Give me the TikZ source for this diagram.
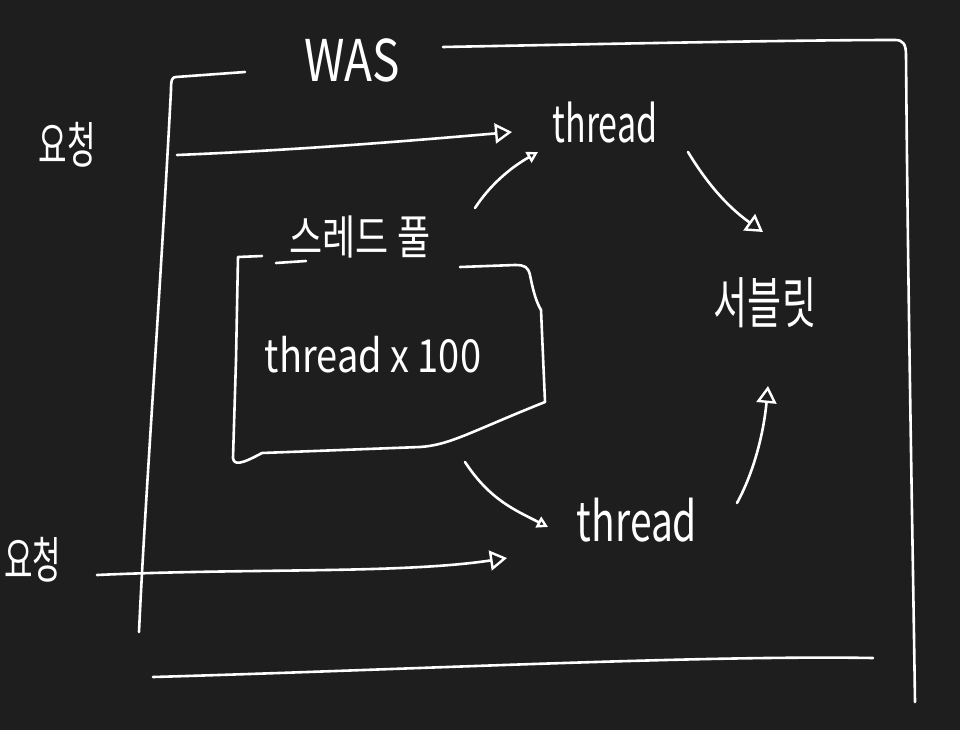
\documentclass[tikz,border=0pt]{standalone}
\usepackage{fontspec}
\setmainfont{Noto Sans CJK KR}
\usetikzlibrary{arrows.meta}
\definecolor{bg}{HTML}{1E1E1E}
\newcommand{\tallhw}[2]{\scalebox{1}[#1]{#2}}
\begin{document}
\begin{tikzpicture}[x=1pt,y=-1pt,
  pen/.style={draw=white, line width=2.6pt, line cap=round, line join=round},
  bighead/.style={-{Triangle[open,length=17pt,width=20pt,line width=2.4pt]}},
  smallhead/.style={-{Triangle[open,length=11pt,width=12pt,line width=2.4pt]}},
  hw/.style={text=white, inner sep=0pt, font=\fontsize{#1}{#1}\selectfont},
  hw/.default=30]
\fill[bg] (0,0) rectangle (960,730);
\useasboundingbox (0,0) rectangle (960,730);

% texts
\node[hw=46] (was) at (352,60) {\tallhw{1.25}{WAS}};
\node[hw=31] (req1) at (67,145) {\tallhw{1.6}{요청}};
\node[hw=31] (req2) at (33,560) {\tallhw{1.6}{요청}};
\node[hw=34] (thr1) at (605,123) {\tallhw{1.5}{thread}};
\node[hw=39] (thr2) at (637,520) {\tallhw{1.4}{thread}};
\node[hw=36] (pool) at (360,237) {\tallhw{1.3}{스레드 풀}};
\node[hw=38] (pooltext) at (373,355) {\tallhw{1.2}{thread x 100}};
\node[hw=37] (servlet) at (765,303) {\tallhw{1.5}{서블릿}};

% WAS frame
\draw[pen] (443,47) .. controls (600,44) and (800,40) .. (895,40)
  .. controls (903,40) and (906,44) .. (906,55)
  .. controls (908,300) and (912,500) .. (915,702);
\draw[pen] (245,72) -- (176,77) .. controls (172,77) and (171,80) .. (171,90)
  .. controls (160,300) and (145,500) .. (139,632);
\draw[pen] (153,677) .. controls (400,670) and (700,655) .. (873,658);

% thread pool box
\draw[pen] (262,256) -- (238,257) -- (236,360) -- (233,458)
  .. controls (234,465) and (240,465) .. (262,453)
  -- (420,447) .. controls (450,445) and (470,432) .. (545,402)
  -- (541,310) .. controls (535,300) and (532,285) .. (530,275)
  .. controls (528,267) and (525,265) .. (515,265) -- (460,267);
\draw[pen] (276,263) -- (306,261);

% connectors
\coordinate (a1s) at (177,155);
\coordinate (a1e) at (512,132);
\draw[pen, bighead] (a1s) .. controls (300,150) and (420,140) .. (a1e);

\coordinate (a2s) at (97,575);
\coordinate (a2e) at (507,558);
\draw[pen, bighead] (a2s) .. controls (250,568) and (400,574) .. (a2e);

\coordinate (p1s) at (475,208);
\coordinate (p1e) at (538,152);
\draw[pen, smallhead] (p1s) .. controls (490,185) and (510,168) .. (p1e);

\coordinate (p2s) at (465,462);
\coordinate (p2e) at (548,527);
\draw[pen, smallhead] (p2s) .. controls (490,500) and (515,510) .. (p2e);

\coordinate (s1s) at (688,152);
\coordinate (s1e) at (763,232);
\draw[pen, bighead] (s1s) .. controls (705,180) and (725,205) .. (s1e);

\coordinate (s2s) at (737,503);
\coordinate (s2e) at (768,386);
\draw[pen, bighead] (s2s) .. controls (755,470) and (764,430) .. (s2e);
\end{tikzpicture}
\end{document}
